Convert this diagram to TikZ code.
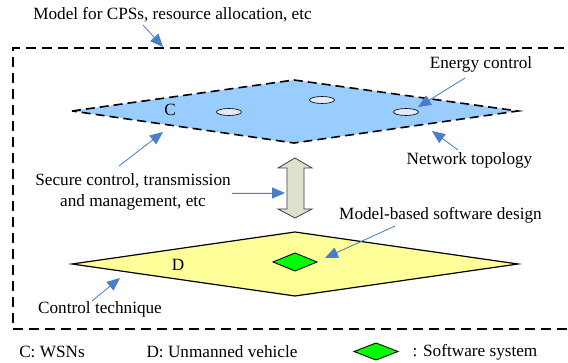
\documentclass[tikz,border=0pt]{standalone}
\usepackage{fontspec}
\setmainfont{Liberation Serif}
\newfontfamily\tnrfont{Liberation Serif}
\usetikzlibrary{arrows.meta,shapes.geometric}
\definecolor{planeblue}{HTML}{99CCFF}
\definecolor{planeyellow}{HTML}{FFFF99}
\definecolor{softgreen}{HTML}{00FF00}
\definecolor{arrowblue}{HTML}{4A7EC8}
\definecolor{holefill}{HTML}{E4EAF2}
\definecolor{dblfill}{HTML}{DDE0CA}
\tikzset{
  lbl/.style={font=\tnrfont\fontsize{17.2}{21}\selectfont, inner sep=0pt},
  callout/.style={draw=arrowblue, line width=0.8pt, -{Triangle[length=13pt,width=11pt]}, fill=arrowblue, shorten >=0pt},
  hole/.style={draw=black, fill=holefill, line width=0.6pt, ellipse, minimum width=25pt, minimum height=7pt, inner sep=0pt},
  outerbox/.style={draw=black, line width=1.8pt, dash pattern=on 10pt off 6pt},
}
\begin{document}
\begin{tikzpicture}[x=1pt,y=-1pt]
\useasboundingbox (0,0) rectangle (568,363);
\clip (0,0) rectangle (568,363);
% outer dashed box
\draw[outerbox] (580,48) -- (13,48) -- (13,329) -- (580,329);
% blue plane
\coordinate (cL) at (72,111);
\coordinate (cT) at (294,80);
\coordinate (cR) at (518,111);
\coordinate (cB) at (294,143);
\fill[planeblue] (cL) -- (cT) -- (cR) -- (cB) -- cycle;
\draw[black, line width=1.6pt, dash pattern=on 9pt off 5pt] (cL) -- (cT) -- (cR) -- (cB) -- cycle;
\node[hole] (h1) at (229,112) {};
\node[hole] (h2) at (322,100) {};
\node[hole] (h3) at (406,112) {};
\node[lbl] (labC) at (170,110) {C};
% yellow plane
\coordinate (dL) at (72,264);
\coordinate (dT) at (295,232);
\coordinate (dR) at (518,264);
\coordinate (dB) at (295,296);
\draw[fill=planeyellow, line width=1.2pt] (dL) -- (dT) -- (dR) -- (dB) -- cycle;
\node[lbl] (labD) at (178,265) {D};
\draw[fill=softgreen, line width=0.9pt] (273,262) -- (295,253) -- (317,262) -- (295,271) -- cycle;
\coordinate (sw) at (317,260);
% double arrow
\draw[fill=dblfill, draw=black!75, line width=0.8pt] (295,158) -- (312,168) -- (304,168) -- (304,209) -- (312,209) -- (295,218) -- (278,209) -- (287,209) -- (287,168) -- (278,168) -- cycle;
\coordinate (dbl) at (285,193);
% texts
\node[lbl] (tModel) at (172.5,15) {Model for CPSs, resource allocation, etc};
\node[lbl] (tEnergy) at (481,64) {Energy control};
\node[lbl] (tNet) at (469.5,160) {Network topology};
\node[lbl, align=center] (tSec) at (133,191.5) {Secure control, transmission\\and management, etc};
\node[lbl] (tCtrl) at (100,309) {Control technique};
\node[lbl] (tMBSD) at (440.5,215) {Model-based software design};
% callout arrows
\coordinate (aModelS) at (143,25);
\coordinate (aModelE) at (163,47);
\draw[callout] (aModelS) -- (aModelE);
\coordinate (aEnS) at (465,78);
\coordinate (aEnE) at (418,107);
\draw[callout] (aEnS) -- (aEnE);
\coordinate (aNetS) at (458,150);
\coordinate (aNetE) at (432,131);
\draw[callout] (aNetS) -- (aNetE);
\coordinate (aSecS) at (119,166);
\coordinate (aSecE) at (163,132);
\draw[callout] (aSecS) -- (aSecE);
\coordinate (aSec2S) at (232,193);
\draw[callout] (aSec2S) -- (dbl);
\coordinate (aCtS) at (92,301);
\coordinate (aCtE) at (120,278);
\draw[callout] (aCtS) -- (aCtE);
\coordinate (aMbS) at (395,226);
\coordinate (aMbE) at (325,258);
\draw[callout] (aMbS) -- (aMbE);
% legend
\node[lbl] (legC) at (52,352) {C: WSNs};
\node[lbl] (legD) at (222,352) {D: Unmanned vehicle};
\draw[fill=softgreen, line width=0.9pt] (354,351.5) -- (376,343) -- (398,351.5) -- (376,360) -- cycle;
\node[lbl] (legS) at (475,352) {: Software system};
\end{tikzpicture}
\end{document}
